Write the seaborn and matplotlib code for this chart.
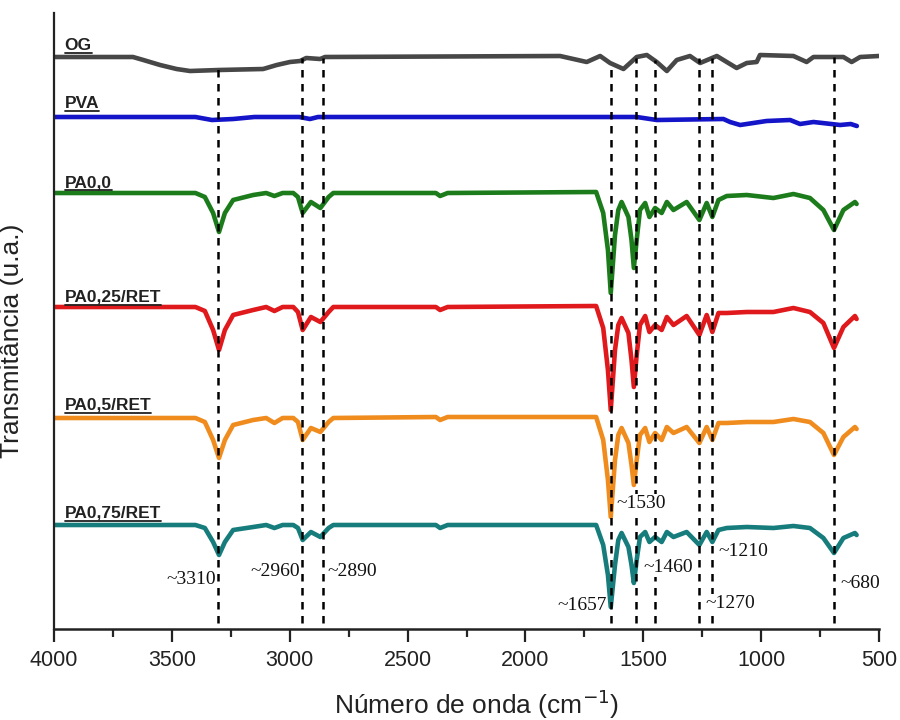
import matplotlib
matplotlib.use("Agg")
import matplotlib.pyplot as plt
import seaborn as sns

# spectra (wavenumber cm-1, transmittance a.u. with offsets)
wn_og = [4000, 3665, 3621, 3550, 3480, 3423, 3300, 3113, 3098, 3055, 2999, 2956, 2930, 2871,
         2850, 1853, 1740, 1683, 1641, 1584, 1528, 1485, 1443, 1400, 1358, 1302, 1259, 1188,
         1104, 1061, 1019, 1005, 863, 807, 778, 651, 616, 580, 500]
t_og = [572, 572, 569, 564, 560, 558, 559, 560, 561, 564, 567, 568, 571, 570,
        572, 573, 567, 573, 566, 560, 572, 574, 567, 558, 569, 573, 566, 573,
        561, 566, 567, 574, 573, 567, 572, 572, 567, 572, 573]

wn_pva = [4000, 3400, 3330, 3240, 3150, 2960, 2914, 2880, 1528, 1443, 1160, 1132, 1089,
          977, 877, 835, 778, 665, 620, 594]
t_pva = [512, 512, 509, 510, 512, 512, 510, 512, 512, 509, 510, 507, 504,
         508, 509, 505, 507, 504, 505, 503]

wn_pa = [4000, 3700, 3400, 3360, 3325, 3300, 3275, 3240, 3155, 3100, 3065, 3030, 2985, 2965,
         2945, 2910, 2870, 2835, 2815, 2380, 2362, 2330, 1700, 1670, 1650, 1638, 1620, 1606,
         1592, 1563, 1550, 1540, 1528, 1514, 1492, 1474, 1450, 1422, 1400, 1372, 1316, 1262,
         1231, 1207, 1181, 1146, 1061, 948, 863, 793, 736, 691, 651, 602, 595]
t_pa00 = [436, 436, 436, 432, 416, 397, 416, 429, 434, 436, 433, 436, 436, 432,
          416, 427, 421, 432, 436, 436, 433, 436, 437, 416, 379, 336, 394, 419,
          427, 412, 389, 361, 389, 419, 426, 412, 421, 416, 427, 419, 427, 409,
          426, 412, 429, 433, 434, 431, 435, 431, 419, 399, 419, 427, 425]
t_pa025 = [322, 322, 322, 318, 299, 279, 299, 314, 319, 322, 318, 322, 322, 317,
           299, 312, 307, 317, 322, 322, 319, 322, 323, 301, 259, 219, 279, 304,
           311, 296, 269, 242, 274, 304, 313, 297, 304, 299, 312, 304, 313, 294,
           314, 297, 316, 316, 317, 317, 321, 317, 306, 281, 302, 313, 310]
t_pa05 = [211, 211, 211, 207, 189, 171, 189, 204, 209, 211, 206, 211, 211, 207,
          189, 201, 197, 207, 211, 212, 209, 212, 212, 189, 149, 112, 169, 194,
          201, 186, 164, 144, 169, 194, 201, 187, 196, 189, 202, 196, 202, 186,
          202, 189, 206, 206, 207, 207, 210, 207, 196, 174, 192, 202, 200]
t_pa075 = [104, 104, 104, 101, 87, 74, 87, 99, 102, 104, 101, 104, 104, 101,
           89, 97, 92, 101, 104, 104, 101, 104, 104, 84, 54, 22, 64, 89,
           96, 82, 64, 46, 69, 92, 97, 87, 92, 87, 97, 92, 97, 84,
           97, 87, 99, 101, 102, 101, 103, 101, 91, 76, 91, 96, 94]

names = ["OG", "PVA", "PA0,0", "PA0,25/RET", "PA0,5/RET", "PA0,75/RET"]
colors = ["#474747", "#1414c8", "#1c7c1c", "#e0191c", "#f08c1e", "#177c7c"]

# marked bands
bands = [3304, 2948, 2859, 1638, 1531, 1452, 1263, 1208, 691]
band_tops = [561, 571, 571, 566, 571, 569, 571, 571, 572]
band_labels = ["~3310", "~2960", "~2890", "~1657", "~1530", "~1460", "~1270", "~1210", "~680"]

sns.set_theme(style="ticks")
plt.rcParams['font.family'] = ['Liberation Sans', 'DejaVu Sans']

fig = plt.figure(figsize=(9, 7.2), dpi=100)
ax = fig.add_axes([54 / 900, 91 / 720, 825 / 900, 616 / 720])

series = [(wn_og, t_og), (wn_pva, t_pva), (wn_pa, t_pa00), (wn_pa, t_pa025),
          (wn_pa, t_pa05), (wn_pa, t_pa075)]
for (x, y), c in zip(series, colors):
    sns.lineplot(x=x, y=y, color=c, lw=3.3, ax=ax, zorder=2)

for b, top in zip(bands, band_tops):
    ax.plot([b, b], [6, top], color="black", lw=1.8, ls=(0, (3, 2.6)), zorder=3)

# series names (underlined)
name_pos = [579, 521, 442, 327, 219, 111]
name_txt = []
for n, yp in zip(names, name_pos):
    t = ax.text(3955, yp, n, fontsize=12.5, fontweight="bold", color="#222222",
                ha="left", va="baseline", zorder=4)
    name_txt.append((t, yp))

# band annotations
ann = [(3312, 50, "right"), (2956, 57, "right"), (2842, 57, "left"), (1654, 24, "right"),
       (1615, 126, "left"), (1501, 61, "left"), (1238, 26, "left"), (1183, 78, "left"),
       (665, 46, "left")]
for (x, y, ha), lab in zip(ann, band_labels):
    ax.text(x, y, lab, fontsize=14, family=["Liberation Serif", "DejaVu Serif"],
            color="#111111", ha=ha, va="center", zorder=5,
            bbox=dict(facecolor="white", edgecolor="none", pad=0.3))

ax.set_xlim(4000, 500)
ax.set_ylim(0, 616)
ax.set_xticks([4000, 3500, 3000, 2500, 2000, 1500, 1000, 500])
ax.set_xticks([3750, 3250, 2750, 2250, 1750, 1250, 750], minor=True)
ax.set_yticks([])
ax.tick_params(axis="x", which="major", length=9, width=1.6, labelsize=15.5, pad=6,
               colors="#222222", direction="out")
ax.tick_params(axis="x", which="minor", length=6, width=1.6, direction="out")
for s in ["top", "right"]:
    ax.spines[s].set_visible(False)
ax.spines["left"].set_linewidth(1.6)
ax.spines["bottom"].set_linewidth(1.8)
ax.spines["left"].set_color("#222222")
ax.spines["bottom"].set_color("#222222")

ax.set_xlabel("Número de onda (cm$^{-1}$)", fontsize=19, color="#222222")
ax.set_ylabel("Transmitância (u.a.)", fontsize=19, color="#222222")
ax.xaxis.set_label_coords(0.512, -0.095)
ax.yaxis.set_label_coords(-0.036, 0.468)

fig.canvas.draw()
r = fig.canvas.get_renderer()
inv = ax.transData.inverted()
for t, yp in name_txt:
    bb = t.get_window_extent(r).transformed(inv)
    ax.plot([bb.x0, bb.x1], [yp - 3, yp - 3], color="#222222", lw=1.3, zorder=4)

fig.savefig("out.png", dpi=100, facecolor="white")
